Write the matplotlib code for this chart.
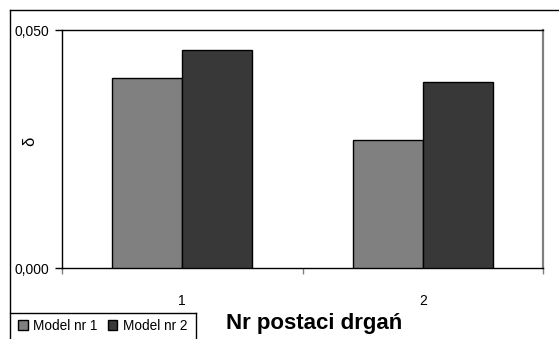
import matplotlib
matplotlib.use("Agg")
import matplotlib.pyplot as plt
from matplotlib.lines import Line2D
import numpy as np

plt.rcParams["font.family"] = ["Liberation Sans", "DejaVu Sans"]

# Data
categories = ["1", "2"]
series_names = ["Model nr 1", "Model nr 2"]
model1 = [0.0399, 0.0269]
model2 = [0.0458, 0.0391]
y_ticks = [0.0, 0.05]
y_tick_labels = ["0,000", "0,050"]
x_label = "Nr postaci drgań"
y_label = "δ"

W, H = 559, 339
fig = plt.figure(figsize=(W / 100, H / 100), dpi=100)
fig.patch.set_facecolor("white")


def px_box(left, top, right, bottom):
    return [left / W, 1 - bottom / H, (right - left) / W, (bottom - top) / H]


ax = fig.add_axes(px_box(62, 30, 543, 268))

x = np.arange(len(categories))
bw = 0.291
b1 = ax.bar(x - bw / 2, model1, bw, color="#808080", edgecolor="black",
            linewidth=1.0, label=series_names[0], zorder=3)
b2 = ax.bar(x + bw / 2, model2, bw, color="#383838", edgecolor="black",
            linewidth=1.0, label=series_names[1], zorder=3)

ax.set_xlim(-0.5, len(categories) - 0.5)
ax.set_ylim(0, 0.05)

ax.set_yticks(y_ticks)
ax.set_yticklabels(y_tick_labels, fontsize=10)
ax.tick_params(axis="y", direction="out", length=5, width=1, pad=4,
               colors="black")

# category boundaries carry the tick marks, labels sit at the centres
ax.set_xticks(np.arange(len(categories) + 1) - 0.5)
ax.set_xticklabels([])
ax.tick_params(axis="x", which="major", direction="out", length=4,
               width=1, color="#808080")
ax.set_xticks(x, minor=True)
ax.set_xticklabels(categories, minor=True, fontsize=10)
ax.tick_params(axis="x", which="minor", length=0, pad=19)

for s in ("top", "left", "bottom"):
    ax.spines[s].set_color("black")
    ax.spines[s].set_linewidth(1.0)
ax.spines["right"].set_color("#808080")
ax.spines["right"].set_linewidth(1.6)

fig.text(226 / W, 1 - 323 / H, x_label, fontsize=16, fontweight="bold",
         ha="left", va="center")
fig.text(30 / W, 1 - 141 / H, y_label, fontsize=12, rotation=90,
         ha="center", va="center")

# outer chart frame (runs off the right and bottom edges)
fig.add_artist(Line2D([9.5 / W, 9.5 / W], [0, 1 - 10 / H], color="black",
                      linewidth=1.0, transform=fig.transFigure))
fig.add_artist(Line2D([9.5 / W, 1], [1 - 10 / H, 1 - 10 / H], color="black",
                      linewidth=1.0, transform=fig.transFigure))

# legend box
fig.add_artist(Line2D([9.5 / W, 196 / W], [1 - 313 / H, 1 - 313 / H],
                      color="black", linewidth=1.0,
                      transform=fig.transFigure))
fig.add_artist(Line2D([196 / W, 196 / W], [0, 1 - 313 / H],
                      color="black", linewidth=1.0,
                      transform=fig.transFigure))
fig.legend(handles=[b1, b2], loc="center left",
           bbox_to_anchor=(18 / W, 1 - 326 / H), ncol=2, frameon=False,
           fontsize=9.8, handlelength=0.7, handleheight=0.7,
           handletextpad=0.38, columnspacing=0.8, borderpad=0,
           borderaxespad=0)

fig.savefig("out.png", dpi=100, facecolor="white")
